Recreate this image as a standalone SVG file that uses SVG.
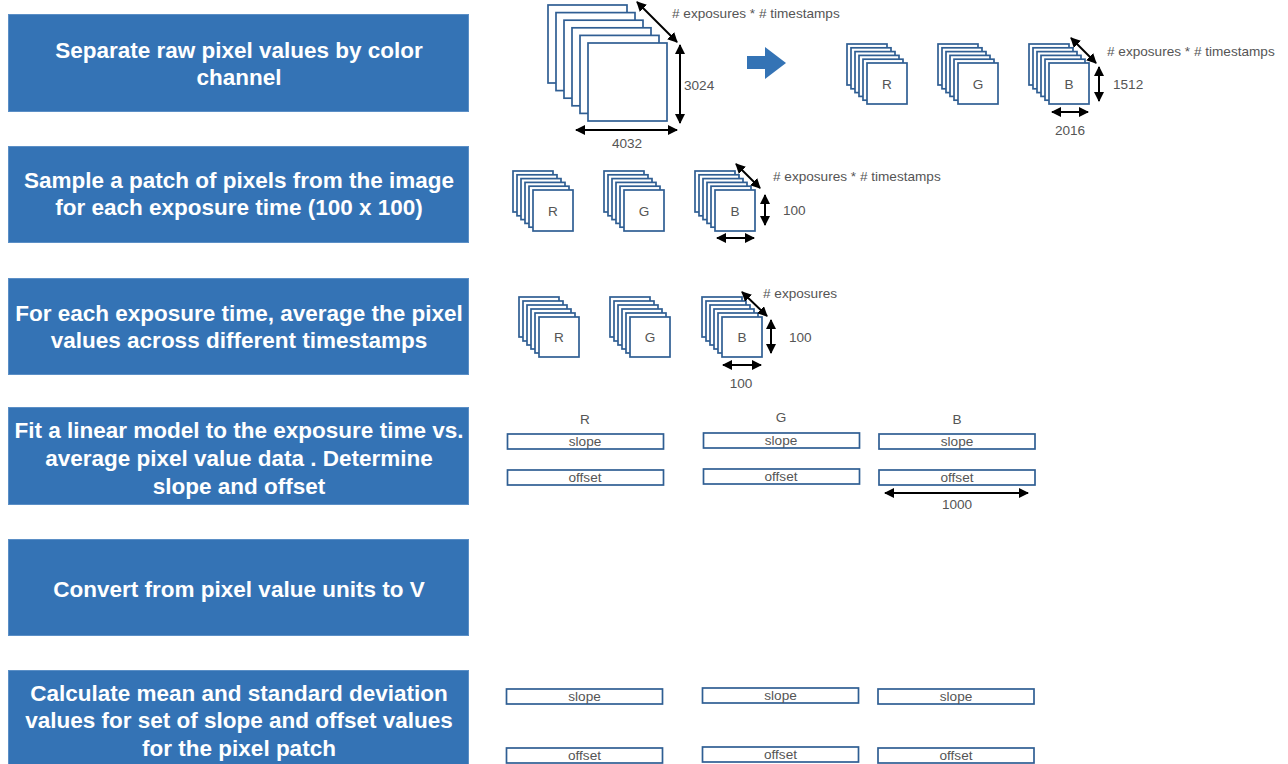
<svg xmlns="http://www.w3.org/2000/svg" width="1288" height="764" viewBox="0 0 1288 764">
<defs>
<style>
.step{fill:#3473B5;stroke:#5B8FC6;stroke-width:1}
.st{font-family:"Liberation Sans",Arial,sans-serif;font-weight:bold;font-size:22.5px;fill:#ffffff;text-anchor:middle}
.fr{fill:#ffffff;stroke:#2F5E93;stroke-width:1.7}
.lb{font-family:"Liberation Sans",Arial,sans-serif;font-size:13.6px;fill:#555555}
.mid{text-anchor:middle}
.dim{stroke:#000;stroke-width:2;fill:none;marker-start:url(#ah);marker-end:url(#ah)}
</style>
<marker id="ah" viewBox="0 0 10 10" refX="9" refY="5" markerWidth="5" markerHeight="5" orient="auto-start-reverse" markerUnits="strokeWidth">
<path d="M0,0 L10,5 L0,10 z" fill="#000"/>
</marker>
</defs>
<rect width="1288" height="764" fill="#ffffff"/>

<g id="step1"><rect class="step" x="8.5" y="14.5" width="460" height="97"/>
<text class="st" x="239" y="58">Separate raw pixel values by color</text>
<text class="st" x="239" y="85">channel</text></g>
<g id="step2"><rect class="step" x="8.5" y="146.5" width="460" height="96"/>
<text class="st" x="239" y="188">Sample a patch of pixels from the image</text>
<text class="st" x="239" y="215">for each exposure time (100 x 100)</text></g>
<g id="step3"><rect class="step" x="8.5" y="278.5" width="460" height="96"/>
<text class="st" x="239" y="320.5">For each exposure time, average the pixel</text>
<text class="st" x="239" y="347.5">values across different timestamps</text></g>
<g id="step4"><rect class="step" x="8.5" y="407.5" width="460" height="97"/>
<text class="st" x="239" y="438">Fit a linear model to the exposure time vs.</text>
<text class="st" x="239" y="466">average pixel value data . Determine</text>
<text class="st" x="239" y="494">slope and offset</text></g>
<g id="step5"><rect class="step" x="8.5" y="539.5" width="460" height="96"/>
<text class="st" x="239" y="596.5">Convert from pixel value units to V</text></g>
<g id="step6"><rect class="step" x="8.5" y="670.5" width="460" height="100"/>
<text class="st" x="239" y="700.5">Calculate mean and standard deviation</text>
<text class="st" x="239" y="728">values for set of slope and offset values</text>
<text class="st" x="239" y="755.5">for the pixel patch</text></g>

<g id="bigstack">
<rect class="fr" x="548" y="5" width="79" height="78"/>
<rect class="fr" x="556" y="12.6" width="79" height="78"/>
<rect class="fr" x="564" y="20.2" width="79" height="78"/>
<rect class="fr" x="572" y="27.8" width="79" height="78"/>
<rect class="fr" x="580" y="35.4" width="79" height="78"/>
<rect class="fr" x="588" y="43" width="79" height="78"/>
</g>
<g id="bigarrow"><polygon points="747,56 765,56 765,47 786,63 765,79 765,69 747,69" fill="#3473B5"/></g>

<g id="stackR1"><rect class="fr" x="847" y="44" width="40" height="41"/><rect class="fr" x="851" y="47.8" width="40" height="41"/><rect class="fr" x="855" y="51.6" width="40" height="41"/><rect class="fr" x="859" y="55.4" width="40" height="41"/><rect class="fr" x="863" y="59.2" width="40" height="41"/><rect class="fr" x="867" y="63" width="40" height="41"/><text class="lb mid" x="887" y="88.5">R</text></g>
<g id="stackG1"><rect class="fr" x="938" y="44" width="40" height="41"/><rect class="fr" x="942" y="47.8" width="40" height="41"/><rect class="fr" x="946" y="51.6" width="40" height="41"/><rect class="fr" x="950" y="55.4" width="40" height="41"/><rect class="fr" x="954" y="59.2" width="40" height="41"/><rect class="fr" x="958" y="63" width="40" height="41"/><text class="lb mid" x="978" y="88.5">G</text></g>
<g id="stackB1"><rect class="fr" x="1029" y="44" width="40" height="41"/><rect class="fr" x="1033" y="47.8" width="40" height="41"/><rect class="fr" x="1037" y="51.6" width="40" height="41"/><rect class="fr" x="1041" y="55.4" width="40" height="41"/><rect class="fr" x="1045" y="59.2" width="40" height="41"/><rect class="fr" x="1049" y="63" width="40" height="41"/><text class="lb mid" x="1069" y="88.5">B</text></g>

<g id="stackR2"><rect class="fr" x="513" y="171" width="40" height="41"/><rect class="fr" x="517" y="174.8" width="40" height="41"/><rect class="fr" x="521" y="178.6" width="40" height="41"/><rect class="fr" x="525" y="182.4" width="40" height="41"/><rect class="fr" x="529" y="186.2" width="40" height="41"/><rect class="fr" x="533" y="190" width="40" height="41"/><text class="lb mid" x="553" y="215.5">R</text></g>
<g id="stackG2"><rect class="fr" x="604" y="171" width="40" height="41"/><rect class="fr" x="608" y="174.8" width="40" height="41"/><rect class="fr" x="612" y="178.6" width="40" height="41"/><rect class="fr" x="616" y="182.4" width="40" height="41"/><rect class="fr" x="620" y="186.2" width="40" height="41"/><rect class="fr" x="624" y="190" width="40" height="41"/><text class="lb mid" x="644" y="215.5">G</text></g>
<g id="stackB2"><rect class="fr" x="695" y="171" width="40" height="41"/><rect class="fr" x="699" y="174.8" width="40" height="41"/><rect class="fr" x="703" y="178.6" width="40" height="41"/><rect class="fr" x="707" y="182.4" width="40" height="41"/><rect class="fr" x="711" y="186.2" width="40" height="41"/><rect class="fr" x="715" y="190" width="40" height="41"/><text class="lb mid" x="735" y="215.5">B</text></g>

<g id="stackR3"><rect class="fr" x="519" y="297" width="40" height="40"/><rect class="fr" x="523" y="301" width="40" height="40"/><rect class="fr" x="527" y="305" width="40" height="40"/><rect class="fr" x="531" y="309" width="40" height="40"/><rect class="fr" x="535" y="313" width="40" height="40"/><rect class="fr" x="539" y="317" width="40" height="40"/><text class="lb mid" x="559" y="342">R</text></g>
<g id="stackG3"><rect class="fr" x="610" y="297" width="40" height="40"/><rect class="fr" x="614" y="301" width="40" height="40"/><rect class="fr" x="618" y="305" width="40" height="40"/><rect class="fr" x="622" y="309" width="40" height="40"/><rect class="fr" x="626" y="313" width="40" height="40"/><rect class="fr" x="630" y="317" width="40" height="40"/><text class="lb mid" x="650" y="342">G</text></g>
<g id="stackB3"><rect class="fr" x="702" y="297" width="40" height="40"/><rect class="fr" x="706" y="301" width="40" height="40"/><rect class="fr" x="710" y="305" width="40" height="40"/><rect class="fr" x="714" y="309" width="40" height="40"/><rect class="fr" x="718" y="313" width="40" height="40"/><rect class="fr" x="722" y="317" width="40" height="40"/><text class="lb mid" x="742" y="342">B</text></g>

<g id="fit">
<text class="lb mid" x="585" y="423.5">R</text>
<text class="lb mid" x="781" y="422">G</text>
<text class="lb mid" x="957" y="423.5">B</text>
<rect class="fr" x="507.5" y="434" width="156" height="15"/><text class="lb mid" x="585" y="446">slope</text>
<rect class="fr" x="703.5" y="433" width="156" height="15"/><text class="lb mid" x="781" y="445">slope</text>
<rect class="fr" x="879" y="434" width="156" height="15"/><text class="lb mid" x="957" y="446">slope</text>
<rect class="fr" x="507.5" y="470" width="156" height="15"/><text class="lb mid" x="585" y="482">offset</text>
<rect class="fr" x="703.5" y="469" width="156" height="15"/><text class="lb mid" x="781" y="481">offset</text>
<rect class="fr" x="879" y="470" width="156" height="15"/><text class="lb mid" x="957" y="482">offset</text>
</g>

<g id="stats">
<rect class="fr" x="506.5" y="689" width="156" height="15"/><text class="lb mid" x="584.5" y="701">slope</text>
<rect class="fr" x="702.5" y="688" width="156" height="15"/><text class="lb mid" x="780.5" y="700">slope</text>
<rect class="fr" x="878" y="689" width="156" height="15"/><text class="lb mid" x="956" y="701">slope</text>
<rect class="fr" x="506.5" y="748" width="156" height="15"/><text class="lb mid" x="584.5" y="760">offset</text>
<rect class="fr" x="702.5" y="747" width="156" height="15"/><text class="lb mid" x="780.5" y="759">offset</text>
<rect class="fr" x="878" y="748" width="156" height="15"/><text class="lb mid" x="956" y="760">offset</text>
</g>

<g id="labels">
<text class="lb" x="672" y="18">
# exposures * # timestamps</text>
<text class="lb" x="684" y="90">3024</text>
<text class="lb mid" x="627" y="148">4032</text>
<text class="lb" x="1107" y="56">
# exposures * # timestamps</text>
<text class="lb" x="1113" y="89">1512</text>
<text class="lb mid" x="1070" y="135">2016</text>
<text class="lb" x="773" y="181">
# exposures * # timestamps</text>
<text class="lb" x="783" y="215">100</text>
<text class="lb" x="763" y="298">
# exposures</text>
<text class="lb" x="789" y="342">100</text>
<text class="lb mid" x="741" y="388">100</text>
<text class="lb mid" x="957" y="509">1000</text>
</g>

<g id="connectors">
<line class="dim" x1="637" y1="2" x2="677" y2="42"/>
<line class="dim" x1="680" y1="45" x2="680" y2="123"/>
<line class="dim" x1="576" y1="130" x2="677" y2="130"/>
<line class="dim" x1="1071" y1="38" x2="1096" y2="63"/>
<line class="dim" x1="1099" y1="67" x2="1099" y2="101"/>
<line class="dim" x1="1052" y1="112" x2="1088" y2="112"/>
<line class="dim" x1="736" y1="164" x2="760" y2="188"/>
<line class="dim" x1="765" y1="195" x2="765" y2="225"/>
<line class="dim" x1="717" y1="238" x2="754" y2="238"/>
<line class="dim" x1="742" y1="292" x2="767" y2="316"/>
<line class="dim" x1="771" y1="320" x2="771" y2="353"/>
<line class="dim" x1="723" y1="365" x2="761" y2="365"/>
<line class="dim" x1="885" y1="493" x2="1028" y2="493"/>
</g>
</svg>
